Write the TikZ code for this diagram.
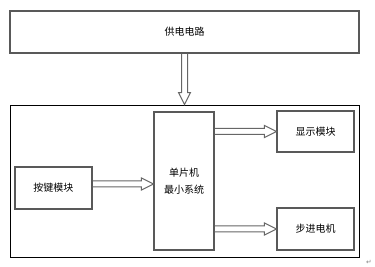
\documentclass[tikz,border=0pt]{standalone}
\usepackage{fontspec}
\newfontfamily\cjk{Noto Sans CJK SC}
\newfontfamily\symfont{DejaVu Sans}
\usetikzlibrary{arrows.meta, positioning, calc}

\begin{document}
\begin{tikzpicture}[
            x=0.75pt, y=-0.75pt,
            every node/.style={font=\cjk\fontsize{7.5}{12.5}\selectfont},
            box/.style={
                rectangle,
                draw=black!65,
                line width=0.8pt,
                align=center,
                inner sep=0pt
            },
            hollow/.style={
                draw=black!60,
                line width=0.75pt,
                to path={
                    let \p1=($(\tikztotarget)-(\tikztostart)$),
                        \n1={veclen(\x1,\y1)}, \n2={atan2(\y1,\x1)} in
                    {[shift={(\tikztostart)}, rotate=\n2]
                    (0pt,2.25pt) -- (\n1-9pt,2.25pt) -- (\n1-9pt,4.5pt) -- (\n1,0pt)
                    -- (\n1-9pt,-4.5pt) -- (\n1-9pt,-2.25pt) -- (0pt,-2.25pt)}
                }
            }
        ]
        \useasboundingbox (0,0) rectangle (375,267);

        % Nodes
        \node[box, minimum width=261.75pt, minimum height=31.5pt] (power) at (184.5,32) {供电电路};
        \node[box, draw=black, line width=0.6pt, minimum width=261.75pt, minimum height=114pt] (board) at (184.5,181) {};
        \node[box, minimum width=57.75pt, minimum height=31.5pt] (key) at (53.5,188) {按键模块};
        \node[box, minimum width=45pt, minimum height=103.5pt] (mcu) at (184,181) {单片机\\最小系统};
        \node[box, minimum width=57.75pt, minimum height=30.75pt] (disp) at (315.5,131.5) {显示模块};
        \node[box, minimum width=57.75pt, minimum height=31.5pt] (motor) at (315.5,229) {步进电机};
        \node[font=\symfont\fontsize{5}{6}\selectfont, text=black!50] (mark) at (369,262) {↵};
        \coordinate (keyout) at ([yshift=3pt]key.east);

        % Arrows
        \draw[hollow] (power.south) to (board.north);
        \draw[hollow] (keyout) to (mcu.west |- keyout);
        \draw[hollow] (mcu.east |- disp.west) to (disp.west);
        \draw[hollow] (mcu.east |- motor.west) to (motor.west);

\end{tikzpicture}
\end{document}
